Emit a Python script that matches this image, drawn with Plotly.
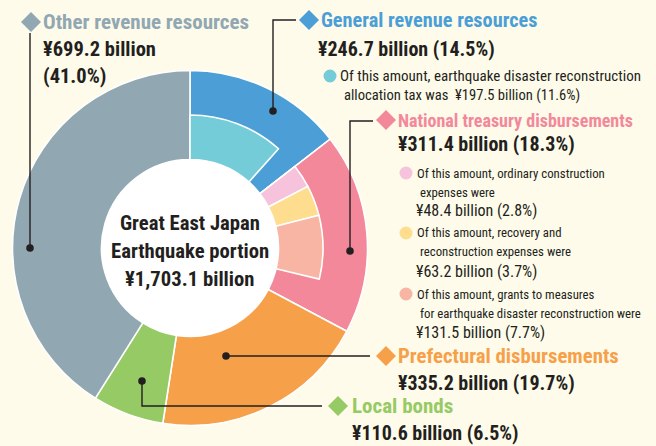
import plotly.graph_objects as go

W, H = 656, 446
BG = "#FEFBEA"
INK = "#231F20"

# ---- data ----
categories = ["General revenue resources", "National treasury disbursements",
              "Prefectural disbursements", "Local bonds", "Other revenue resources"]
values = [246.7, 311.4, 335.2, 110.6, 699.2]
shares = [14.5, 18.3, 19.7, 6.5, 41.0]
colors = ["#4B9ED6", "#F2889A", "#F7A04A", "#96CA65", "#91A7B2"]

general_sub_label = "earthquake disaster reconstruction allocation tax"
general_sub_value = 197.5
general_sub_share = 11.6
general_sub_color = "#74CCD8"

national_sub_labels = ["ordinary construction expenses", "recovery and reconstruction expenses",
                       "grants to measures for earthquake disaster reconstruction"]
national_sub_values = [48.4, 63.2, 131.5]
national_sub_shares = [2.8, 3.7, 7.7]
national_sub_colors = ["#F7C2DB", "#FEDD8E", "#F8B5A3"]

total = 1703.1

# ---- geometry helpers (pixels -> paper) ----
def px(x):
    return x / W

def py(y):
    return 1 - y / H

CX, CY = 190, 248
R_OUT, R_IN, R_HOLE = 177.5, 133, 88.5

def dom(r):
    return dict(x=[px(CX - r), px(CX + r)], y=[py(CY + r), py(CY - r)])

fig = go.Figure()

# outer ring
fig.add_trace(go.Pie(
    values=values, labels=categories, sort=False, direction="clockwise", rotation=0,
    hole=R_HOLE / R_OUT, domain=dom(R_OUT),
    marker=dict(colors=colors, line=dict(color="white", width=1.6)),
    textinfo="none", hoverinfo="label+value", showlegend=False,
))

# inner ring (sub-amounts); invisible filler slices keep them aligned
inner_vals = ([general_sub_value, values[0] - general_sub_value]
              + national_sub_values
              + [values[1] - sum(national_sub_values), sum(values[2:])])
inner_cols = ([general_sub_color, "rgba(0,0,0,0)"] + national_sub_colors
              + ["rgba(0,0,0,0)", "rgba(0,0,0,0)"])
inner_lw = [1.6, 0, 1.6, 1.6, 1.6, 0, 0]
inner_labels = ([general_sub_label, "g-rest"] + national_sub_labels + ["n-rest", "rest"])
fig.add_trace(go.Pie(
    values=inner_vals, labels=inner_labels, sort=False, direction="clockwise", rotation=0,
    hole=R_HOLE / R_IN, domain=dom(R_IN),
    marker=dict(colors=inner_cols, line=dict(color="white", width=inner_lw)),
    textinfo="none", hoverinfo="skip", showlegend=False,
))

shapes = []
annotations = []

# white centre disc
shapes.append(dict(type="circle", xref="paper", yref="paper", layer="below",
                   x0=px(CX - R_HOLE), x1=px(CX + R_HOLE), y0=py(CY + R_HOLE), y1=py(CY - R_HOLE),
                   fillcolor="white", line=dict(width=0)))

def line(pts):
    path = "M " + " L ".join(f"{px(x)},{py(y)}" for x, y in pts)
    shapes.append(dict(type="path", xref="paper", yref="paper", path=path,
                       line=dict(color=INK, width=1.4)))

def dot(x, y, r=3.8, color=INK):
    shapes.append(dict(type="circle", xref="paper", yref="paper",
                       x0=px(x - r), x1=px(x + r), y0=py(y + r), y1=py(y - r),
                       fillcolor=color, line=dict(width=0)))

def diamond(x, y, color, s=10):
    path = (f"M {px(x)},{py(y - s)} L {px(x + s)},{py(y)} L {px(x)},{py(y + s)} "
            f"L {px(x - s)},{py(y)} Z")
    shapes.append(dict(type="path", xref="paper", yref="paper", path=path,
                       fillcolor=color, line=dict(width=0)))

FONT = "Roboto Condensed, Roboto, Liberation Sans, sans-serif"

def text(x, y, s, size, color=INK, bold=False, anchor="left"):
    annotations.append(dict(xref="paper", yref="paper", x=px(x), y=py(y), text=(f"<b>{s}</b>" if bold else s),
                            showarrow=False, xanchor=anchor, yanchor="middle",
                            font=dict(family=FONT, size=size, color=color)))

def fmt(v, p):
    return f"¥{v:,.1f} billion ({p:.1f}%)"

# leader lines + dots
line([(30, 33), (30, 248)]); dot(30, 248)
line([(296, 20), (273, 20), (273, 111)]); dot(273, 111)
line([(373, 121), (350, 121), (350, 251)]); dot(350, 251)
line([(226, 356), (370, 356)]); dot(226, 356)
line([(142, 381), (142, 406), (322, 406)]); dot(142, 381)

VS = 20     # value size

# Other revenue resources
diamond(31, 22, colors[4])
text(41, 22, categories[4], 21, colors[4], True)
text(41, 49, f"¥{values[4]:,.1f} billion", 20.5, INK, True)
text(41, 76, f"({shares[4]:.1f}%)", 20.5, INK, True)

# General revenue resources
diamond(309, 20, colors[0])
text(319, 20, categories[0], 20.3, colors[0], True)
text(316, 49, fmt(values[0], shares[0]), VS, INK, True)
dot(330, 76, 6.5, general_sub_color)
text(338, 76, "Of this amount, earthquake disaster reconstruction", 15)
text(342, 95, f"allocation tax was  ¥{general_sub_value:,.1f} billion ({general_sub_share:.1f}%)", 14.6)

# National treasury disbursements
diamond(386, 120, colors[1])
text(396, 120, categories[1], 18, colors[1], True)
text(396, 144, fmt(values[1], shares[1]), VS, INK, True)

sub_lines = [
    ("Of this amount, ordinary construction", " expenses were"),
    ("Of this amount, recovery and", " reconstruction expenses were"),
    ("Of this amount, grants to measures", " for earthquake disaster reconstruction were"),
]
ys = [173, 233, 294]
for (l1, l2), v, p, c, y0 in zip(sub_lines, national_sub_values, national_sub_shares, national_sub_colors, ys):
    dot(406, y0, 6.5, c)
    text(415, y0, l1, 12.8)
    text(415, y0 + 19, l2, 12.8)
    text(414, y0 + 38, f"¥{v:,.1f} billion ({p:.1f}%)", 16)

# Prefectural disbursements
diamond(386, 356, colors[2])
text(396, 356, categories[2], 20.8, colors[2], True)
text(396, 383, fmt(values[2], shares[2]), VS, INK, True)

# Local bonds
diamond(338, 406, colors[3])
text(350, 406, categories[3], 21, colors[3], True)
text(350, 433, fmt(values[3], shares[3]), VS, INK, True)

# centre text
text(CX, 223, "Great East Japan", 20.7, INK, True, "center")
text(CX, 251, "Earthquake portion", 20.7, INK, True, "center")
text(CX, 279, f"¥{total:,.1f} billion", 20.7, INK, True, "center")

fig.update_layout(
    width=W, height=H, margin=dict(l=0, r=0, t=0, b=0),
    paper_bgcolor=BG, plot_bgcolor=BG,
    shapes=shapes, annotations=annotations, showlegend=False,
)

fig.write_html("out.html", config={"displayModeBar": False},
               post_script="document.body.style.margin='0';")
